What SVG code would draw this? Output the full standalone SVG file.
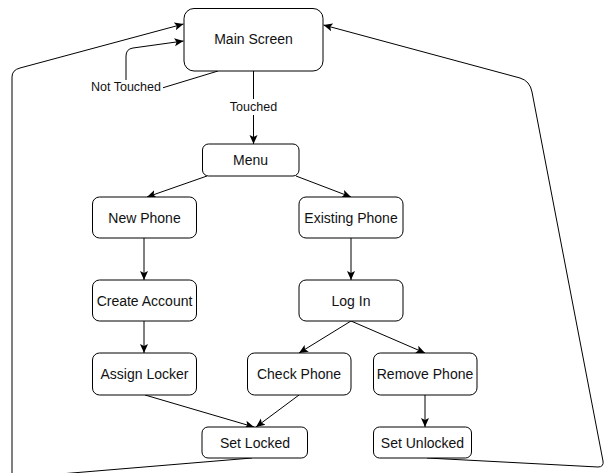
<svg xmlns="http://www.w3.org/2000/svg" width="605" height="473" viewBox="0 0 605 473">
<style>
.node rect{fill:#fff;stroke:#000;stroke-width:1}
.node text{font-family:"Liberation Sans",Arial,sans-serif;font-size:14px;fill:#111;text-anchor:middle;dominant-baseline:central}
.edge{fill:none;stroke:#000;stroke-width:1}
.arr{marker-end:url(#ah)}
.lbl{font-family:"Liberation Sans",Arial,sans-serif;font-size:12.5px;fill:#111;text-anchor:middle;dominant-baseline:central}
</style>
<defs>
<marker id="ah" markerUnits="userSpaceOnUse" markerWidth="10" markerHeight="10" viewBox="0 0 10 10" refX="9" refY="5" orient="auto">
<path d="M0,1 L9,5 L0,9 L2,5 Z" fill="#000"/>
</marker>
</defs>
<rect width="605" height="473" fill="#fff"/>
<g id="connectors">
<path class="edge arr" d="M253.5,71 L253.5,144"/>
<path class="edge arr" d="M218,71 L126,99 L126,56 Q126,49 133,48 L183.5,41"/>
<path class="edge arr" d="M207,176 L147,197"/>
<path class="edge arr" d="M296,176 L351,197"/>
<path class="edge arr" d="M144,238 L144,280"/>
<path class="edge arr" d="M351,238 L351,280"/>
<path class="edge arr" d="M144,321 L144,353"/>
<path class="edge arr" d="M351,321 L299,353"/>
<path class="edge arr" d="M351,321 L425,353"/>
<path class="edge arr" d="M145,395 L254,427"/>
<path class="edge arr" d="M299,395 L256,427"/>
<path class="edge arr" d="M425,395 L425,427"/>
<path class="edge arr" d="M252,458 L12,478 L12,77 Q12,70 20,68 L183.5,24"/>
<path class="edge arr" d="M427,458 L598,467 Q604,467 603,461 L532,92 Q530,81 520,78 L323.5,25"/>
<rect x="89" y="80" width="74" height="20" fill="#fff"/>
<text class="lbl" x="126" y="87">Not Touched</text>
<rect x="227" y="99" width="53" height="16" fill="#fff"/>
<text class="lbl" x="253.5" y="107">Touched</text>
</g>
<g id="main-screen" class="node"><rect x="184" y="8.5" width="139" height="62.5" rx="10"/><text x="253.5" y="39">Main Screen</text></g>
<g id="menu" class="node"><rect x="202.5" y="144" width="96.5" height="32" rx="6"/><text x="250.5" y="160">Menu</text></g>
<g id="new-phone" class="node"><rect x="92.5" y="197" width="104" height="41" rx="7"/><text x="144.5" y="217.5">New Phone</text></g>
<g id="existing-phone" class="node"><rect x="299" y="197" width="104" height="41" rx="7"/><text x="351" y="217.5">Existing Phone</text></g>
<g id="create-account" class="node"><rect x="92.5" y="280" width="104" height="41" rx="7"/><text x="144.5" y="300.5">Create Account</text></g>
<g id="log-in" class="node"><rect x="299" y="280" width="104" height="41" rx="7"/><text x="351" y="300.5">Log In</text></g>
<g id="assign-locker" class="node"><rect x="92.5" y="353" width="104" height="42" rx="7"/><text x="144.5" y="374">Assign Locker</text></g>
<g id="check-phone" class="node"><rect x="247.5" y="353" width="103.5" height="42" rx="7"/><text x="299" y="374">Check Phone</text></g>
<g id="remove-phone" class="node"><rect x="373.5" y="353" width="103.5" height="42" rx="7"/><text x="425" y="374">Remove Phone</text></g>
<g id="set-locked" class="node"><rect x="202" y="427" width="105.5" height="31" rx="6"/><text x="255" y="442.5">Set Locked</text></g>
<g id="set-unlocked" class="node"><rect x="373.5" y="427" width="98" height="31" rx="6"/><text x="422.5" y="442.5">Set Unlocked</text></g>
</svg>
